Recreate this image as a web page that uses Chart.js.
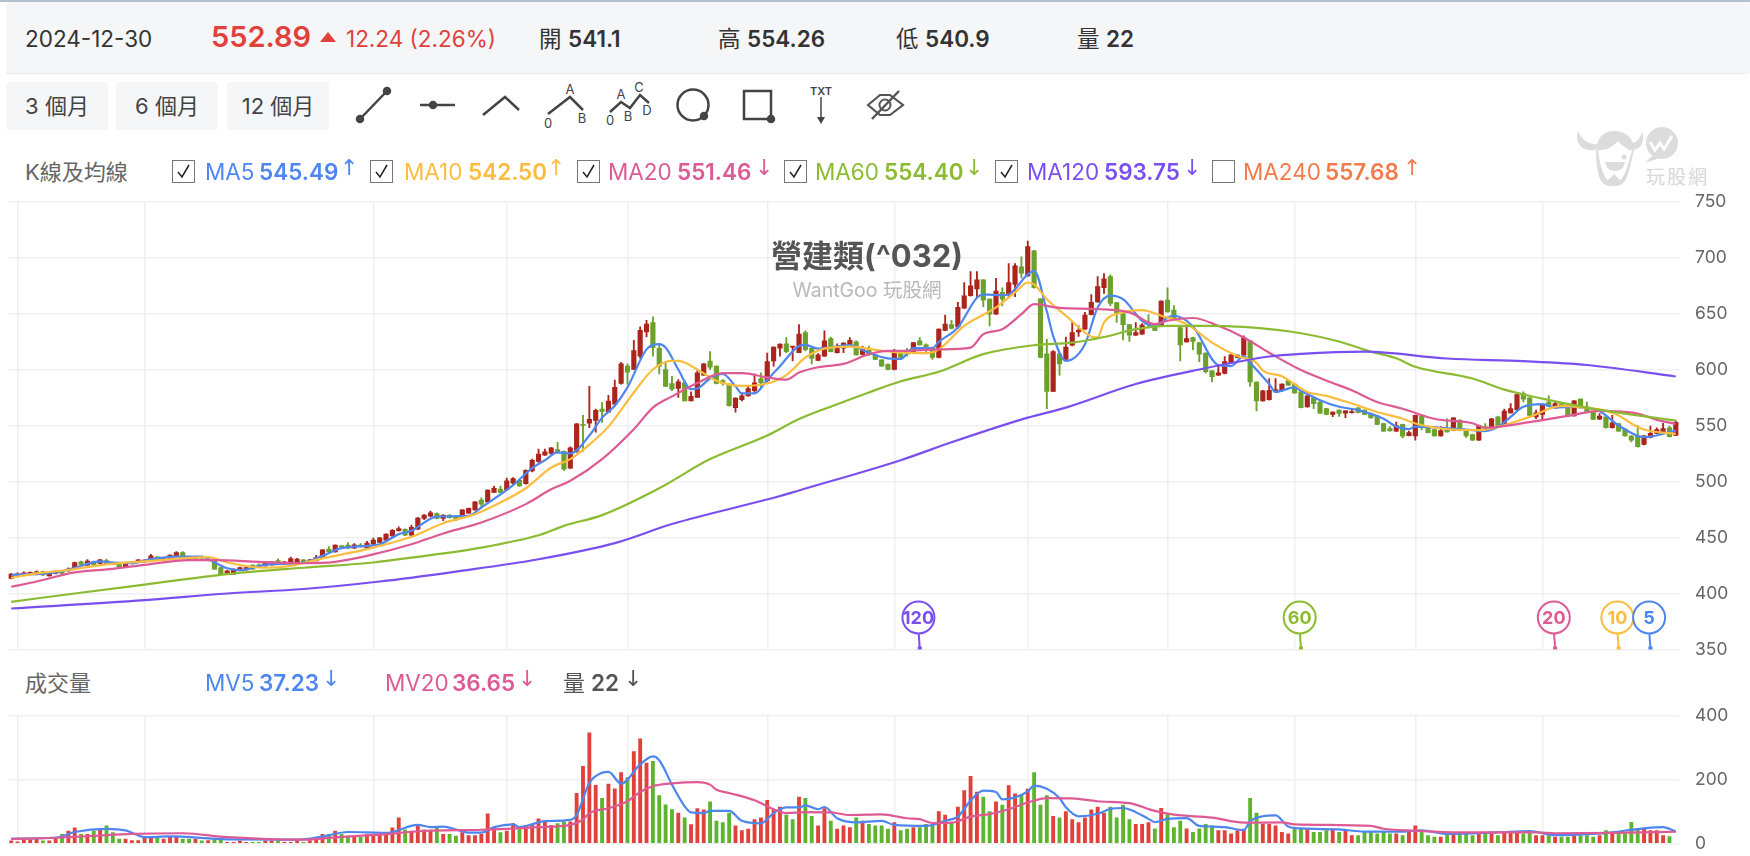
<!DOCTYPE html>
<html>
<head>
<meta charset="utf-8">
<title>營建類(^032)</title>
<script src="https://cdn.jsdelivr.net/npm/chart.js@4"></script>
<style>
html, body { margin: 0; padding: 0; background: #fff; width: 1750px; height: 856px; overflow: hidden; }
body { position: relative; font-family: Inter, "Noto Sans CJK TC", sans-serif; color: #333; }
.t { position: absolute; white-space: nowrap; line-height: 1; }
.b { font-weight: 600; }
canvas { position: absolute; left: 0; }
#topBar { position: absolute; left: 6px; right: 0; top: 2px; height: 71px; background: #f5f6f8; border-bottom: 1px solid #e9ebee; border-radius: 3px; }
#topLine { position: absolute; left: 0; right: 0; top: 0; height: 2px; background: #b4c0cf; }
.btn { position: absolute; top: 82px; height: 48px; width: 102px; background: #f5f6f8; border-radius: 4px; text-align: center; line-height: 48px; font-size: 22px; color: #444; }
.chk { position: absolute; top: 160px; width: 21px; height: 21px; border: 1px solid #777; background: #fff; }
#title { position: absolute; z-index: 2; left: 667px; width: 400px; top: 240px; text-align: center; font-size: 31px; font-weight: 700; color: #555; line-height: 1; }
#subtitle { position: absolute; z-index: 2; left: 667px; width: 400px; top: 281px; text-align: center; font-size: 19.5px; color: #b9b9b9; line-height: 1; }
#icons, #logo { position: absolute; left: 0; top: 0; }
</style>
</head>
<body>
<div id="topLine"></div>
<div id="topBar"></div>
<span class="t" style="left:25px;top:28px;font-size:22.5px;color:#333">2024-12-30</span>
<span class="t b" style="left:211px;top:22px;font-size:29px;color:#e0413a">552.89</span>
<svg style="position:absolute;left:319px;top:31px" width="18" height="12"><path d="M9 1 L17 11 L1 11 Z" fill="#e0413a"/></svg>
<span class="t" style="left:346px;top:28px;font-size:22.5px;color:#e0413a">12.24 (2.26%)</span>
<span class="t" style="left:539px;top:28px;font-size:22.5px">開</span>
<span class="t b" style="left:568px;top:28px;font-size:22.5px">541.1</span>
<span class="t" style="left:718px;top:28px;font-size:22.5px">高</span>
<span class="t b" style="left:747px;top:28px;font-size:22.5px">554.26</span>
<span class="t" style="left:896px;top:28px;font-size:22.5px">低</span>
<span class="t b" style="left:925px;top:28px;font-size:22.5px">540.9</span>
<span class="t" style="left:1077px;top:28px;font-size:22.5px">量</span>
<span class="t b" style="left:1106px;top:28px;font-size:22.5px">22</span>

<div class="btn" style="left:6px">3 個月</div>
<div class="btn" style="left:116px">6 個月</div>
<div class="btn" style="left:227px">12 個月</div>

<svg id="icons" width="950" height="135" fill="none" stroke="#444" stroke-width="2.5">
  <path d="M360 119 L387 91"/><circle cx="360" cy="119" r="3" fill="#444"/><circle cx="387" cy="91" r="3" fill="#444"/>
  <path d="M420 105 H455"/><circle cx="433" cy="105" r="3" fill="#444"/>
  <path d="M483 115 L505 97 L519 110"/>
  <path d="M548 114 L570 97 L583 110"/>
  <path d="M610 112 L621 102 L630 108 L640 95 L649 103"/>
  <circle cx="693" cy="105" r="15.5"/><circle cx="704" cy="116" r="3" fill="#444"/>
  <rect x="744" y="91" width="27" height="28"/><circle cx="771" cy="119" r="3" fill="#444"/>
  <path d="M821 97 V118" stroke-width="1.5"/><path d="M817 117 H825 L821 124 Z" fill="#444" stroke="none"/>
  <path d="M868 105 L880 95 H890 L903 105 L890 115 H880 Z" stroke="#555" stroke-width="2.2"/><circle cx="885" cy="105" r="5.5" stroke="#555" stroke-width="2"/><path d="M872 119 L899 91" stroke="#555"/>
  <g fill="#444" stroke="none" font-size="13" text-anchor="middle" font-family="Inter">
    <text x="570" y="94">A</text><text x="548" y="128">0</text><text x="582" y="123">B</text>
    <text x="621" y="99">A</text><text x="610" y="125">0</text><text x="628" y="121">B</text><text x="639" y="92">C</text><text x="647" y="115">D</text>
    <text x="821" y="95" font-size="11" font-weight="600">TXT</text>
  </g>
</svg>

<svg id="logo" width="1750" height="195">
  <g fill="#dcdcdc">
    <path d="M1578 131 C1574 145 1584 152 1596 150 L1598 144 C1590 145 1582 141 1578 131 Z"/>
    <path d="M1642 131 C1646 145 1638 152 1628 150 L1626 144 C1634 145 1640 141 1642 131 Z"/>
    <path d="M1597 150 C1596 138 1604 131 1614 131 C1626 131 1634 138 1634 150 C1626 149 1622 146 1618 141 C1612 148 1604 151 1597 150 Z"/>
    <path d="M1596 150 C1596 166 1598 180 1604 184 C1608 187 1618 187 1622 184 C1628 180 1630 166 1634 150 L1632 150 C1628 166 1624 178 1620 180 L1614 174 L1608 180 C1604 178 1600 166 1598 150 Z"/>
    <path d="M1605 162 H1625 C1624 168 1620 171 1615 171 C1610 171 1606 168 1605 162 Z"/>
    <circle cx="1624" cy="157" r="2.5"/>
    <circle cx="1662" cy="143" r="16"/>
    <path d="M1652 156 L1645 163 L1660 158 Z"/>
  </g>
  <path d="M1650 142 L1655 150 L1660 143 L1664 149 L1672 136" fill="none" stroke="#fff" stroke-width="3"/>
  <text x="1646" y="184" font-size="19" letter-spacing="2" fill="#d8d8d8" font-family="Noto Sans CJK TC">玩股網</text>
</svg>

<span class="t" style="left:25px;top:161px;font-size:22px;color:#666">K線及均線</span>
<span class="t" style="left:25px;top:672px;font-size:22px;color:#666">成交量</span>

<div id="title">營建類(^032)</div>
<div id="subtitle">WantGoo 玩股網</div>

<canvas id="priceChart" width="1750" height="501" style="top:175px"></canvas>
<canvas id="volumeChart" width="1750" height="181" style="top:689px"></canvas>

<script>
const opens = [413.5,416.5,417.3,417,417,419.6,415.8,418,420,420.2,
    421.7,428.3,425.3,428.6,426.8,429.5,427.7,426.2,423.8,426.8,
    427.7,428.3,430,432.7,429.8,430.7,433,436.6,432,429.8,
    431,429.5,429.5,423.2,417.3,417.3,421.1,421.1,425.3,425.6,
    424.7,425.6,429.5,426.8,427.7,428.3,430,428.3,429.2,432.1,
    439.6,437.2,442.6,443.2,440.5,443.2,440.5,444,445.5,447.6,
    451.5,456,457.4,452,457.4,467,469,471.4,467,470,
    468.8,468,471.7,474.7,483.3,481.8,490.2,493.2,492.6,498.5,
    501,498,509.5,518,523.5,525,528.6,527,512,527,
    551,552,554.5,564.6,562,569,587.5,603,600,612,
    633.6,642,619,600,587.5,583,588,572,575,595,
    607.5,603,590,586.9,566,573,576.5,581,592,590,
    607.7,619,623,620,615,633,619,608,612,627.7,
    615,619,621,624.7,613.4,617.6,613,608.6,604.7,600,
    615,616.7,615,625.6,622,619.6,610.7,635,640,638,
    654.8,666,672,680,662.8,649.4,668.8,667,676,691.7,
    683.6,706,663,614,580.4,614,609,621.7,633.6,636,
    649,660.4,673,683,659.8,650,640,630.6,631.6,641.5,
    640.5,639,662,653,637.5,624.7,628.6,624,614.6,598.8,
    595,596.4,606,610.7,612.8,625.6,588.7,572,573,580,
    581,590,587,580,566.7,574.7,571,565,560,563.7,
    561,561.5,565.8,563.7,560.7,558.6,551.8,547.3,545,551,
    541,540.8,558.6,548,546.4,540.8,546.7,545.8,554.8,545,
    542,537,548.8,547.3,557.8,550,561.3,564,578.6,574.7,
    557.7,559.8,571,565.8,569.6,566,558.6,573.5,566.7,562,
    555.7,557.7,548,551.8,546.7,540.5,540.8,533,539.3,543,
    543,548,541.1];
const closes = [417.3,417.5,418.5,418.8,419.3,416.7,418,420,418,421.7,
    427.7,426,428.9,425.6,430,426.5,426,423.2,427.7,428.3,
    430,429.8,433.6,429.8,431,434.2,436.6,433,429.8,431,
    429.8,430.7,421.7,417.3,420.2,421.7,423.2,423.2,421.7,423.8,
    427.7,428.3,427,428.3,431.2,430.7,428.3,430,432.1,439,
    437.2,443.2,441.7,440.5,443.5,442,445,447.6,449.7,453,
    456.5,458,452,459,467.3,470,472,467,470,467.6,
    466.4,474.7,476,481.8,479.8,492.3,493.8,490.2,500.6,502.7,
    496,510,519,524.4,526.5,530,525.6,511,530,551.5,
    550,555.6,563.5,562.5,571.7,584,605,597.6,617,635,
    640.5,619.6,603,585,582.4,589,572,576,597,605,
    602,587.5,587.5,567.6,574.4,576.5,583,588,588,607,
    620,622.6,616,620.3,631.6,617.6,610,613,625.6,616,
    620,623.5,626,613,618,613,609,603,600,616.7,
    610.7,613.7,624,622,618,610.7,636,640.5,636.6,655.6,
    665.8,674.7,680,662,649.4,670,662.8,677.7,692.6,686,
    709.8,673,610.7,580.4,616,605,620,633,635,648.5,
    660,674,681,659,650,640,630.6,633,639.6,640,
    635,661,651.5,645,622,627.6,625,613.7,598,593.5,
    597,607,613,612.8,628.6,589,572,581,581.5,582,
    587,586,579,566,576.5,569.6,561,560,562,560.7,
    563,562.5,561.6,560,556.8,551,545,545.2,550,540.5,
    543.7,559,548,543.7,540.8,545.5,544.3,556.8,545.8,540.8,
    537,550,547.3,556,550,562.8,565,577.7,573.5,559,
    561.3,568,567.3,569.6,567.5,558.6,572,565.8,561.6,555.4,
    558.4,548,552.4,545,540.8,537,531,540.8,543,546.4,
    547.3,540,552.89];
const lows = [413,416,417,416.5,416.5,416,415.5,417.5,417.7,420,
    421.5,426,425,425.4,426.5,426.2,425.7,423,423.5,426.5,
    427.5,428,429.8,429.5,429.5,430.5,432.7,432.7,429.5,429.5,
    429.5,429.2,421.4,417,417,417,420.8,420.8,421.4,423.5,
    424.4,425.3,426.7,426.5,427.4,428,428,428,429,431.8,
    437,437,441.4,440.2,440.2,441.7,440.2,443.7,445.2,447.3,
    451.2,455.7,451.7,451.7,457,466,468.7,466.7,465,467.3,
    465,467.7,471.4,474.4,478,481.5,490,490,492.3,497.5,
    495.7,497.7,508.5,517,523.2,524.7,525.3,510,511.7,526,
    527,548,544,552.7,561.6,567.5,587,587,600,610,
    629,612,596,585,581,575,572,572,575,594.7,
    600,587.2,586,567.3,562,572,576.2,579.5,584,589,
    603,612,615,607.7,615,616.5,605,607.7,611.7,615.7,
    614.5,615,620.7,612.7,613,612.7,608.7,602.7,599.7,599.7,
    610.4,612,614.7,621.7,614,609,610.4,634.7,636.3,637,
    654.5,665.5,664,656,639,649.1,656.8,665,665,681.8,
    683.3,672.7,610.4,565,580.1,595,608,621,629.5,635.7,
    648.7,660,668,657,642,626.5,625,630.3,631.3,638,
    634.7,638.7,651.2,644.7,607.7,624.4,617.6,607,596.7,589,
    594.7,596,605.7,610.4,612.5,585,563,571.7,572.7,579.7,
    580.7,585.7,578.7,565.7,566.4,565,560.7,559.7,557.8,558,
    557,561,561.3,559.7,556.5,550.7,544.7,545,544.7,539,
    540.7,537,546,543.4,540.5,540.5,544,545.5,545.5,539.3,
    536.7,536.7,545.5,547,549.7,549.7,561,563.7,571,558.7,
    556,554.7,567,565.5,567.2,558.3,558.3,565.5,561.3,555.1,
    555.4,547.7,547.7,544.7,540.5,535.4,530.7,532.7,539,542.7,
    542.7,539.7,540.9];
const highs = [418,418.5,419.3,419.3,420.2,420,418.3,420.3,420.3,423,
    428,429,430.3,429,430.5,430.7,428,426.5,428,428.6,
    430.3,430.2,435,433,431.5,434.5,437.5,437.5,432.3,431.3,
    431.3,431,430,423.5,420.5,422,423.5,423.5,425.6,426.5,
    428,428.6,431,428.6,432.5,431.5,430.3,430.5,434,439.3,
    442,443.5,443,445.5,444.5,444.5,446.5,449.5,450,453.3,
    457,459.5,457.7,461,468,470.5,473.5,472,470.3,470.3,
    469,475,476.3,482,485.5,492.6,496,496,503,503.5,
    501.3,510.5,520,529,529,530.3,535,527.3,531,551.8,
    559,585,564.6,570.5,577,590.5,606.5,605,626,638,
    644,647,622.6,607,594,591,590,580,599,605.3,
    616,603.3,591,587.2,574.7,579,585,596,597,614.6,
    620.3,622.9,628.6,620.5,640,634.5,619.3,614.3,634.5,629,
    623,624,628.5,625.6,621,621,613.3,608.9,605,618,
    615.3,619,624.3,628.5,623,620,636.3,648.5,644,660,
    677.7,687.5,687.5,680.3,663,681.5,673,694.6,694.6,700.6,
    714.6,706.3,663.3,627,617,614.3,629,642,639,651,
    667,683,685.7,684.5,660,650.3,640.3,642,641,649,
    640.8,661.3,673,657,637.8,638,628.9,624.3,614.9,599,
    603,611.6,613.3,613,630,625.9,589,581.3,592,592,
    587.3,590.3,587.3,580.3,576.8,575,571.3,565.3,562.3,564,
    563.3,565,566,564,561,558.9,552,549,553,551.3,
    545,559.3,559,548.3,546.7,549,556,557.1,555.1,545.3,
    542.3,550.3,551.8,556.3,558,564.6,569.6,578,580,575,
    563.7,569.6,576.5,571,570,566.3,572.3,573.8,571,562.3,
    560.7,558,559,552,547,541,550,541,549.4,548,
    552,549.4,554.26];

const volumes = [8,5,13,12,13,8,8,15,29,39,49,29,29,39,46,55,34,14,14,9,
    9,19,19,19,14,19,19,14,14,14,8,9,14,14,4,4,8,4,4,4,
    8,8,8,4,4,8,4,9,14,29,29,39,29,23,19,19,29,29,29,29,
    49,80,43,39,57,43,39,49,29,29,23,34,25,25,29,93,49,34,39,62,
    49,57,57,77,67,57,62,68,68,157,241,346,182,141,186,171,222,206,287,327,
    251,257,150,121,106,95,80,59,109,105,130,70,65,95,55,40,45,75,80,135,
    105,114,89,75,145,141,85,55,109,70,45,55,50,80,70,60,55,55,45,65,
    40,45,50,50,60,55,100,89,65,114,165,210,161,145,100,130,120,181,155,152,
    170,222,120,150,85,80,100,75,65,80,105,114,95,114,80,120,75,60,60,65,
    46,110,90,50,70,46,35,46,60,55,40,40,30,40,45,141,95,60,60,55,
    35,30,46,46,46,35,35,40,46,35,40,25,25,35,35,30,35,30,30,25,
    35,55,35,25,20,20,30,35,30,30,25,35,30,30,25,35,35,35,30,35,
    25,25,25,20,20,20,25,25,25,20,25,40,35,35,35,66,46,46,40,40,
    25,22];
const volumeUp = [1,1,1,1,1,0,1,1,0,1,1,0,1,0,1,0,0,0,1,1,
    1,1,1,0,1,1,1,0,0,1,0,1,0,0,1,1,1,1,0,0,
    1,1,0,1,1,1,0,1,1,1,0,1,0,0,1,0,1,1,1,1,
    1,1,0,1,1,1,1,0,1,0,0,1,1,1,1,1,1,0,1,1,
    0,1,1,1,1,1,0,0,1,1,1,1,1,0,1,1,1,0,1,1,
    1,0,0,0,0,1,0,1,1,1,0,0,0,0,1,1,1,1,1,1,
    1,1,0,0,1,0,0,1,1,0,1,1,1,0,1,0,0,0,0,1,
    0,0,1,0,0,0,1,1,0,1,1,1,1,0,0,1,0,1,1,0,
    1,0,0,0,1,0,1,1,1,1,1,1,1,0,0,0,0,1,1,1,
    0,1,0,0,0,1,0,0,0,0,1,1,1,1,1,0,0,1,1,1,
    1,1,0,0,1,0,0,0,1,0,1,1,0,0,0,0,0,0,1,0,
    1,1,0,0,0,1,0,1,0,0,0,1,0,1,0,1,1,1,0,0,
    1,1,0,1,0,0,1,0,0,0,1,0,1,0,0,0,0,1,1,1,
    1,0,1];

const ma5 = [[0,416.7],[7,418.8],[10,423],[14,428.6],[16,427.7],[19,427],[22,430.7],[26,433],[30,433],[32,427.7],[34,422.6],[36,420.8],[40,425.6],[46,427.7],[49,433.6],[52,440.5],[58,444],[61,453],[63,456],[67,468.7],[72,469.3],[74,476.8],[79,496.7],[82,512],[84,519],[86,526],[88,525],[91,541],[93,557],[95,567.6],[97,584],[100,618],[102,622.6],[103,619.6],[105,600],[107,582.4],[108,583],[110,592],[112,596],[114,585],[115,578.6],[117,578.6],[119,590.8],[121,603],[124,621],[125,622],[127,618.7],[132,621.7],[135,615],[138,610],[140,609.5],[142,619],[145,619],[146,624.7],[149,637.5],[152,664],[153,667],[156,666.4],[157,667],[160,685],[161,688],[163,652],[164,630],[166,607.7],[169,622.6],[171,655.4],[173,666],[175,662.8],[178,643.5],[180,638.4],[182,646.4],[183,648],[186,638.4],[190,604],[192,603],[194,612],[195,606],[198,587],[199,580],[202,584],[203,581],[206,572.6],[209,566.7],[212,563.7],[216,556],[218,549],[220,546.7],[221,549],[225,548],[229,546.4],[232,545],[234,548.8],[236,557.7],[238,566.7],[241,569],[243,566],[246,566.7],[250,562.8],[253,550],[257,539.6],[262,545.49]];
const ma10 = [[0,414],[4,418],[9,421],[15,426],[21,428.6],[31,432.4],[34,427.7],[40,423],[44,424.7],[49,431.3],[56,439.6],[63,450.6],[68,462.8],[73,470.8],[77,481.3],[81,494],[85,512.5],[88,520],[91,533],[94,549],[98,579.5],[101,600],[104,607.7],[105,607.7],[108,600],[111,590],[115,585.4],[119,587.5],[122,595],[125,610.7],[128,618.7],[132,620.5],[136,617.6],[140,615],[144,614.6],[146,618],[150,639],[155,655.4],[158,668.8],[160,677.7],[161,676],[163,662.8],[166,648],[170,629.5],[171,628.6],[172,642],[175,651],[178,653],[181,648],[185,640.5],[189,624],[193,612],[196,606],[197,599],[200,594],[204,580],[207,576.5],[211,569.6],[215,562],[219,556],[221,551.8],[225,547.3],[231,545.8],[234,548.8],[239,557.7],[244,567.6],[248,565.8],[251,563],[253,559],[255,551.8],[257,546.4],[262,542.5]];
const ma20 = [[0,406],[4,410.7],[10,418.8],[16,422],[21,425.6],[28,429.8],[32,429.8],[39,428.3],[46,427],[51,428.3],[56,433.6],[63,444],[68,453.6],[74,463.4],[81,479.8],[85,493],[88,500.6],[93,520],[98,546.7],[101,566],[104,576],[108,588],[112,596.7],[115,596.7],[119,593],[122,591],[124,597.3],[127,602],[131,605],[135,613.7],[138,616.7],[140,616.7],[146,618],[151,619.6],[153,631.5],[156,636],[159,649.4],[161,658.3],[165,655],[171,654],[176,651],[180,640.5],[182,643.5],[186,646],[190,639],[194,628.6],[198,615],[203,599.5],[208,588],[211,581.5],[215,571],[219,565],[224,556],[230,552],[232,548],[239,553],[245,558.6],[250,563],[256,560.7],[259,555],[262,551.46]];
const ma60 = [[0,392.6],[10,400],[21,408],[34,417.3],[46,423],[57,427.7],[63,432],[74,441],[83,452],[87,460.4],[93,470],[102,494],[110,520],[119,541],[124,555.7],[130,569],[135,579.5],[140,589.5],[146,598],[153,613.7],[161,621.7],[167,624],[172,629],[177,636],[182,639],[188,639],[194,638],[203,632.4],[209,625],[214,616],[218,610],[221,602.4],[230,592],[235,582],[241,574],[248,566],[256,559],[262,554.4]];
const ma120 = [[0,386.6],[21,394],[34,400],[46,404],[58,410.7],[70,419.6],[83,430.6],[95,445],[104,462],[121,487],[124,492],[140,519],[148,535],[160,557],[166,566],[177,587],[187,600],[198,611.6],[203,614],[213,616],[226,609.8],[238,607.4],[248,604],[262,593.75]];
const mv5 = [[0,15],[7,18],[10,36],[15,46],[18,41],[21,20],[25,22],[34,13],[45,12],[49,22],[53,36],[59,33],[64,58],[66,51],[68,53],[72,34],[74,34],[76,51],[79,60],[80,51],[84,70],[88,74],[89,89],[91,189],[93,221],[94,224],[96,187],[99,247],[101,272],[102,260],[104,184],[106,116],[107,97],[109,95],[110,102],[113,102],[115,71],[118,63],[120,95],[122,113],[124,113],[125,119],[127,107],[128,114],[130,79],[133,66],[137,71],[139,58],[144,55],[147,71],[149,84],[151,134],[153,165],[155,161],[156,138],[158,144],[160,163],[161,181],[163,171],[165,142],[166,113],[168,85],[171,93],[173,108],[175,111],[177,98],[179,77],[180,67],[182,77],[185,79],[187,55],[189,53],[191,51],[194,42],[195,69],[197,85],[199,88],[201,53],[203,47],[209,44],[213,37],[219,37],[222,41],[226,30],[234,35],[239,39],[243,26],[249,30],[252,35],[256,45],[260,51],[262,37.23]];
const mv20 = [[0,14],[7,18],[13,24],[19,30],[27,32],[34,20],[46,12],[51,19],[58,28],[65,39],[74,43],[83,51],[88,58],[90,75],[91,95],[94,110],[97,132],[99,161],[101,179],[104,188],[108,192],[110,184],[111,168],[113,158],[117,135],[120,107],[122,95],[125,98],[129,97],[132,89],[137,91],[141,79],[143,76],[145,64],[148,65],[151,84],[154,92],[157,107],[160,128],[163,142],[167,141],[171,132],[176,126],[180,102],[183,90],[189,81],[194,65],[200,66],[202,60],[214,55],[216,46],[221,40],[228,35],[240,35],[243,32],[252,33],[262,36.65]];

// bars where the month rolls over, used for the vertical grid lines
const monthTicks = [1,21,57,78,97,119,139,160,182,202,221,241];
const priceTicks = [350,750,50];
const volumeTicks = [0,400,200];

const maLabels = ["MA5","MA10","MA20","MA60","MA120","MA240"];
const maValues = ["545.49","542.50","551.46","554.40","593.75","557.68"];
const maArrows = ["↑","↑","↓","↓","↓","↑"];
const maColors = ["#4e86f0","#fbbd3f","#de5a94","#8cbb32","#7a4ff0","#f27b4b"];
const maChecked = [true,true,true,true,true,false];
const maSpans = [5,10,20,60,120];

const dayLabels = opens.map((v, i) => i);
const upColor = "#ab251c";
const downColor = "#6ca12c";
const gridColor = "#efefef";

function toSeries(pairs) {
    var out = new Array(dayLabels.length).fill(null);
    pairs.forEach(p => { out[p[0]] = p[1]; });
    return out;
}

function maLine(pairs, color) {
    return {
        type: "line",
        data: toSeries(pairs),
        borderColor: color,
        borderWidth: 2.2,
        pointRadius: 0,
        spanGaps: true,
        cubicInterpolationMode: "monotone",
        order: 1
    };
}

function xAxis() {
    return {
        offset: true,
        grid: { color: gridColor, lineWidth: 1.5, offset: false, drawTicks: false },
        border: { display: false },
        ticks: { display: false },
        afterBuildTicks: scale => { scale.ticks = monthTicks.map(v => ({ value: v })); }
    };
}

function yAxis(range) {
    return {
        position: "right",
        min: range[0],
        max: range[1],
        grid: { color: gridColor, lineWidth: 1.5, drawTicks: false },
        border: { display: false },
        ticks: { stepSize: range[2], color: "#666", padding: 16, font: { size: 17.5, family: "Inter" } },
        afterFit: scale => { scale.width = 71; }
    };
}

// little numbered pins at the start of each moving average window
const windowPins = {
    id: "windowPins",
    afterDatasetsDraw(chart) {
        const ctx = chart.ctx;
        const bottom = chart.chartArea.bottom;
        maSpans.slice().reverse().forEach((span, n) => {
            const color = maColors[maSpans.length - 1 - n];
            const x = chart.scales.x.getPixelForValue(dayLabels.length - span);
            const cy = bottom - 32;
            ctx.save();
            ctx.strokeStyle = color;
            ctx.lineWidth = 2;
            ctx.beginPath();
            ctx.moveTo(x - 1, cy + 16);
            ctx.lineTo(x, bottom - 1);
            ctx.stroke();
            ctx.fillStyle = color;
            ctx.fillRect(x - 2, bottom - 3, 4, 3);
            ctx.fillStyle = "#fff";
            ctx.beginPath();
            ctx.arc(x - 1.3, cy, 16, 0, Math.PI * 2);
            ctx.fill();
            ctx.stroke();
            ctx.fillStyle = color;
            ctx.font = "700 18px Inter";
            ctx.textAlign = "center";
            ctx.textBaseline = "middle";
            ctx.fillText(String(span), x - 1.3, cy + 1);
            ctx.restore();
        });
    }
};

new Chart(document.getElementById("priceChart"), {
    type: "bar",
    data: {
        labels: dayLabels,
        datasets: [
            {
                data: lows.map((v, i) => [v, highs[i]]),
                backgroundColor: opens.map((v, i) => closes[i] >= v ? upColor : downColor),
                barThickness: 1.2,
                grouped: false,
                order: 3
            },
            {
                data: opens.map((v, i) => [v, closes[i]]),
                backgroundColor: opens.map((v, i) => closes[i] >= v ? upColor : downColor),
                barThickness: 4.5,
                minBarLength: 1,
                grouped: false,
                order: 2
            },
            maLine(ma120, maColors[4]),
            maLine(ma60, maColors[3]),
            maLine(ma20, maColors[2]),
            maLine(ma10, maColors[1]),
            maLine(ma5, maColors[0])
        ]
    },
    options: {
        responsive: false,
        animation: false,
        layout: { autoPadding: false, padding: { left: 8, right: 0, top: 14.5, bottom: 15 } },
        plugins: { legend: { display: false }, tooltip: { enabled: false } },
        scales: { x: xAxis(), y: yAxis(priceTicks) }
    },
    plugins: [windowPins]
});

new Chart(document.getElementById("volumeChart"), {
    type: "bar",
    data: {
        labels: dayLabels,
        datasets: [
            {
                data: volumes,
                backgroundColor: volumeUp.map(v => v ? "#e0413a" : "#5db52f"),
                barThickness: 3.2,
                order: 2
            },
            maLine(mv20, maColors[2]),
            maLine(mv5, maColors[0])
        ]
    },
    options: {
        responsive: false,
        animation: false,
        layout: { autoPadding: false, padding: { left: 8, right: 0, top: 17, bottom: 15.5 } },
        plugins: { legend: { display: false }, tooltip: { enabled: false } },
        scales: { x: xAxis(), y: yAxis(volumeTicks) }
    }
});

// legend rows above each panel
function addText(left, top, text, size, color, bold, family) {
    var el = document.createElement("span");
    el.className = "t" + (bold ? " b" : "");
    el.style.left = left + "px";
    el.style.top = top + "px";
    el.style.fontSize = size + "px";
    el.style.color = color;
    if (family) el.style.fontFamily = family;
    el.textContent = text;
    document.body.appendChild(el);
}

const boxLefts = [172,370,577,784,995,1212];
const nameLefts = [205,404,608,815,1027,1243];
const valueLefts = [259,468,677,884,1104,1325];
const arrowLefts = [340,547,755,965,1183,1403];

maLabels.forEach((name, i) => {
    var box = document.createElement("div");
    box.className = "chk";
    box.style.left = boxLefts[i] + "px";
    if (maChecked[i]) {
        box.innerHTML = '<svg width="21" height="21"><path d="M5 11 L9 16 L16 4" fill="none" stroke="#222" stroke-width="1.5"/></svg>';
    }
    document.body.appendChild(box);
    addText(nameLefts[i], 161, name, 22.5, maColors[i], false);
    addText(valueLefts[i], 161, maValues[i], 22.5, maColors[i], true);
    addText(arrowLefts[i], 157, maArrows[i], 22, maColors[i], false, "DejaVu Sans");
});

addText(205, 672, "MV5", 22.5, maColors[0], false);
addText(259, 672, "37.23", 22.5, maColors[0], true);
addText(322, 668, "↓", 22, maColors[0], false, "DejaVu Sans");
addText(385, 672, "MV20", 22.5, maColors[2], false);
addText(452, 672, "36.65", 22.5, maColors[2], true);
addText(518, 668, "↓", 22, maColors[2], false, "DejaVu Sans");
addText(563, 672, "量", 22, "#555", false);
addText(591, 672, "22", 22.5, "#555", true);
addText(624, 668, "↓", 22, "#555", false, "DejaVu Sans");
</script>
</body>
</html>
